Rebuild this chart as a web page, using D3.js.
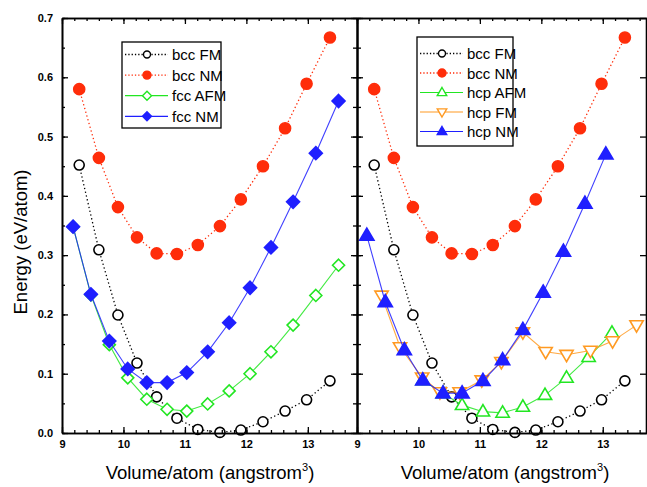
<!DOCTYPE html>
<html>
<head>
<meta charset="utf-8">
<script src="https://cdn.jsdelivr.net/npm/d3@7"></script>
<style>
  body { margin: 0; background: #fff; }
  text { font-family: "Liberation Sans", Arial, sans-serif; }
</style>
</head>
<body>
<svg id="chart" width="647" height="487"></svg>
<script>
// volumes (angstrom^3) and energies (eV/atom)
const bccVol = [9.28, 9.6, 9.91, 10.22, 10.54, 10.87, 11.21, 11.57, 11.91, 12.27, 12.63, 12.98, 13.36];
const bccFM = [0.452, 0.309, 0.199, 0.118, 0.061, 0.025, 0.006, 0.001, 0.005, 0.019, 0.037, 0.056, 0.088];
const bccNM = [0.580, 0.464, 0.381, 0.330, 0.303, 0.302, 0.317, 0.349, 0.394, 0.450, 0.514, 0.589, 0.667];

const fccVol = [9.18, 9.47, 9.77, 10.07, 10.38, 10.71, 11.03, 11.37, 11.72, 12.06, 12.4, 12.76, 13.13, 13.5];
const fccAFM = [0.348, 0.233, 0.149, 0.093, 0.057, 0.040, 0.037, 0.049, 0.071, 0.100, 0.137, 0.182, 0.232, 0.283];
const fccNM = [0.348, 0.234, 0.155, 0.108, 0.085, 0.085, 0.102, 0.137, 0.186, 0.245, 0.313, 0.390, 0.472, 0.560];

const hcpAFMVol = [10.07, 10.4, 10.71, 11.05, 11.37, 11.7, 12.06, 12.41, 12.77, 13.15];
const hcpAFM = [0.089, 0.067, 0.047, 0.036, 0.034, 0.044, 0.064, 0.093, 0.128, 0.169];
const hcpFMVol = [9.4, 9.7, 10.06, 10.35, 10.67, 11.03, 11.35, 11.7, 12.07, 12.41, 12.8, 13.16, 13.55];
const hcpFM = [0.232, 0.145, 0.094, 0.069, 0.069, 0.089, 0.120, 0.170, 0.137, 0.132, 0.139, 0.155, 0.182];
const hcpNMVol = [9.16, 9.46, 9.77, 10.07, 10.4, 10.71, 11.05, 11.37, 11.7, 12.03, 12.36, 12.71, 13.05];
const hcpNM = [0.333, 0.221, 0.140, 0.089, 0.067, 0.067, 0.088, 0.123, 0.174, 0.237, 0.306, 0.387, 0.470];

const xTicks = [9, 10, 11, 12, 13];
const yTicks = [0, 0.1, 0.2, 0.3, 0.4, 0.5, 0.6, 0.7];

const RED = "#ff2d0a", GREEN = "#22e622", BLUE = "#1f1fff", ORANGE = "#ff9a22";

const svg = d3.select("#chart");
const plotTop = 18, plotBottom = 433;
const y = d3.scaleLinear().domain([0, 0.7]).range([plotBottom, plotTop]);
const xL = d3.scaleLinear().domain([9, 13.8]).range([62, 357]);
const xR = d3.scaleLinear().domain([9, 13.72]).range([357, 647]);

function range(a, b, s) {
    let out = [];
    for (let v = a; v <= b + 1e-9; v += s) out.push(+v.toFixed(3));
    return out;
}

function markerPath(type, r) {
    if (type == "circle") return d3.symbol(d3.symbolCircle, Math.PI * r * r)();
    if (type == "diamond") return `M0,${-r}L${r},0L0,${r}L${-r},0Z`;
    if (type == "up") return `M0,${-r}L${r * 0.95},${r * 0.62}L${-r * 0.95},${r * 0.62}Z`;
    if (type == "down") return `M0,${r}L${r * 0.95},${-r * 0.62}L${-r * 0.95},${-r * 0.62}Z`;
}

function drawSeries(g, x, xs, ys, st) {
    let pts = xs.map((v, i) => [x(v), y(ys[i])]);
    g.append("path")
        .attr("d", d3.line()(pts))
        .attr("fill", "none")
        .attr("stroke", st.line)
        .attr("stroke-width", st.dash ? 1.3 : 1.1)
        .attr("stroke-dasharray", st.dash ? "1.3,2.6" : null)
        .attr("opacity", st.dash ? 1 : 0.85);
    g.selectAll(null).data(pts).enter().append("path")
        .attr("transform", d => "translate(" + d[0] + "," + d[1] + ")")
        .attr("d", markerPath(st.shape, st.r))
        .attr("fill", st.fill)
        .attr("stroke", st.stroke)
        .attr("stroke-width", 1.6);
}

function drawAxes(x, lo, hi) {
    let g = svg.append("g").attr("class", "axes");
    g.append("g").attr("transform", "translate(0," + plotBottom + ")")
        .call(d3.axisBottom(x).tickValues(range(lo, hi, 0.2)).tickSize(-3).tickSizeOuter(0).tickFormat(""));
    g.append("g").attr("transform", "translate(0," + plotBottom + ")")
        .call(d3.axisBottom(x).tickValues(xTicks).tickSize(-6).tickSizeOuter(0).tickPadding(7)
            .tickFormat(d3.format("d")));
    g.append("g").attr("transform", "translate(0," + plotTop + ")")
        .call(d3.axisTop(x).tickValues(range(lo, hi, 0.2)).tickSize(-3).tickSizeOuter(0).tickFormat(""));
    g.append("g").attr("transform", "translate(0," + plotTop + ")")
        .call(d3.axisTop(x).tickValues(xTicks).tickSize(-6).tickSizeOuter(0).tickFormat(""));
    g.selectAll(".domain").attr("stroke", "#000").attr("stroke-width", 1.6);
    g.selectAll(".tick line").attr("stroke", "#000").attr("stroke-width", 1.3);
    g.selectAll(".tick text").attr("font-size", 11).attr("font-weight", "bold")
        .attr("font-family", "'Liberation Sans', Arial, sans-serif").attr("fill", "#000");
    return g;
}

// plot contents
let left = svg.append("g");
drawSeries(left, xL, bccVol, bccFM, {line: "#000", dash: true, shape: "circle", r: 5, fill: "#fff", stroke: "#000"});
drawSeries(left, xL, bccVol, bccNM, {line: RED, dash: true, shape: "circle", r: 5.5, fill: RED, stroke: RED});
drawSeries(left, xL, fccVol, fccAFM, {line: GREEN, dash: false, shape: "diamond", r: 6, fill: "#fff", stroke: GREEN});
drawSeries(left, xL, fccVol, fccNM, {line: BLUE, dash: false, shape: "diamond", r: 6.5, fill: BLUE, stroke: BLUE});

let right = svg.append("g");
drawSeries(right, xR, bccVol, bccFM, {line: "#000", dash: true, shape: "circle", r: 5, fill: "#fff", stroke: "#000"});
drawSeries(right, xR, bccVol, bccNM, {line: RED, dash: true, shape: "circle", r: 5.5, fill: RED, stroke: RED});
drawSeries(right, xR, hcpAFMVol, hcpAFM, {line: GREEN, dash: false, shape: "up", r: 7, fill: "#fff", stroke: GREEN});
drawSeries(right, xR, hcpFMVol, hcpFM, {line: ORANGE, dash: false, shape: "down", r: 7, fill: "#fff", stroke: ORANGE});
drawSeries(right, xR, hcpNMVol, hcpNM, {line: BLUE, dash: false, shape: "up", r: 7.5, fill: BLUE, stroke: BLUE});

// axes
drawAxes(xL, 9, 13.8);
drawAxes(xR, 9, 13.72);

let ya = svg.append("g").attr("class", "axes");
ya.append("g").attr("transform", "translate(62,0)")
    .call(d3.axisLeft(y).tickValues(range(0, 0.7, 0.05)).tickSize(-3).tickSizeOuter(0).tickFormat(""));
ya.append("g").attr("transform", "translate(62,0)")
    .call(d3.axisLeft(y).tickValues(yTicks).tickSize(-6).tickSizeOuter(0).tickPadding(9).tickFormat(d3.format(".1f")));
// shared middle axis, ticks on both sides
ya.append("g").attr("transform", "translate(357,0)")
    .call(d3.axisLeft(y).tickValues(range(0, 0.7, 0.05)).tickSize(4).tickSizeOuter(0).tickFormat(""));
ya.append("g").attr("transform", "translate(357,0)")
    .call(d3.axisRight(y).tickValues(range(0, 0.7, 0.05)).tickSize(4).tickSizeOuter(0).tickFormat(""));
ya.append("g").attr("transform", "translate(357,0)")
    .call(d3.axisLeft(y).tickValues(yTicks).tickSize(6).tickSizeOuter(0).tickFormat(""));
ya.append("g").attr("transform", "translate(357,0)")
    .call(d3.axisRight(y).tickValues(yTicks).tickSize(6).tickSizeOuter(0).tickFormat(""));
ya.append("g").attr("transform", "translate(646,0)")
    .call(d3.axisRight(y).tickValues(yTicks).tickSize(-6).tickSizeOuter(0).tickFormat(""));
ya.selectAll(".domain").attr("stroke", "#000").attr("stroke-width", 1.6);
ya.selectAll(".tick line").attr("stroke", "#000").attr("stroke-width", 1.3);
ya.selectAll(".tick text").attr("font-size", 11).attr("font-weight", "bold")
    .attr("font-family", "'Liberation Sans', Arial, sans-serif").attr("fill", "#000");

// axis titles
svg.append("text")
    .attr("transform", "translate(27,242) rotate(-90)")
    .attr("text-anchor", "middle")
    .attr("font-size", 18.5)
    .text("Energy (eV/atom)");

[[xL, 210], [xR, 505]].forEach(function(d) {
    let t = svg.append("text")
        .attr("x", d[1]).attr("y", 479)
        .attr("text-anchor", "middle")
        .attr("font-size", 18.5);
    t.append("tspan").text("Volume/atom (angstrom");
    t.append("tspan").attr("font-size", 11).attr("dy", -8).text("3");
    t.append("tspan").attr("dy", 8).text(")");
});

// legends
function drawLegend(x0, y0, w, h, rowY, step, items) {
    let g = svg.append("g");
    g.append("rect").attr("x", x0).attr("y", y0).attr("width", w).attr("height", h)
        .attr("fill", "#fff").attr("stroke", "#000").attr("stroke-width", 1.3);
    items.forEach(function(it, i) {
        let cy = rowY + i * step;
        g.append("line").attr("x1", x0 + 3).attr("x2", x0 + 46).attr("y1", cy).attr("y2", cy)
            .attr("stroke", it.line).attr("stroke-width", it.dash ? 1.3 : 1.2)
            .attr("stroke-dasharray", it.dash ? "1.3,2" : null);
        g.append("path").attr("transform", "translate(" + (x0 + 25) + "," + cy + ")")
            .attr("d", markerPath(it.shape, it.r))
            .attr("fill", it.fill).attr("stroke", it.stroke).attr("stroke-width", 1.4);
        g.append("text").attr("x", x0 + 50).attr("y", cy + 5.5)
            .attr("font-size", 15).text(it.name);
    });
}

drawLegend(122, 42, 99, 86, 54.5, 20.6, [
    {name: "bcc FM", line: "#000", dash: true, shape: "circle", r: 3.5, fill: "#fff", stroke: "#000"},
    {name: "bcc NM", line: RED, dash: true, shape: "circle", r: 4, fill: RED, stroke: RED},
    {name: "fcc AFM", line: GREEN, dash: false, shape: "diamond", r: 4.5, fill: "#fff", stroke: GREEN},
    {name: "fcc NM", line: BLUE, dash: false, shape: "diamond", r: 4.5, fill: BLUE, stroke: BLUE}
]);
drawLegend(417, 37, 96, 109, 53.5, 19.5, [
    {name: "bcc FM", line: "#000", dash: true, shape: "circle", r: 3.5, fill: "#fff", stroke: "#000"},
    {name: "bcc NM", line: RED, dash: true, shape: "circle", r: 4, fill: RED, stroke: RED},
    {name: "hcp AFM", line: GREEN, dash: false, shape: "up", r: 5, fill: "#fff", stroke: GREEN},
    {name: "hcp FM", line: ORANGE, dash: false, shape: "down", r: 5, fill: "#fff", stroke: ORANGE},
    {name: "hcp NM", line: BLUE, dash: false, shape: "up", r: 5, fill: BLUE, stroke: BLUE}
]);
</script>
</body>
</html>
